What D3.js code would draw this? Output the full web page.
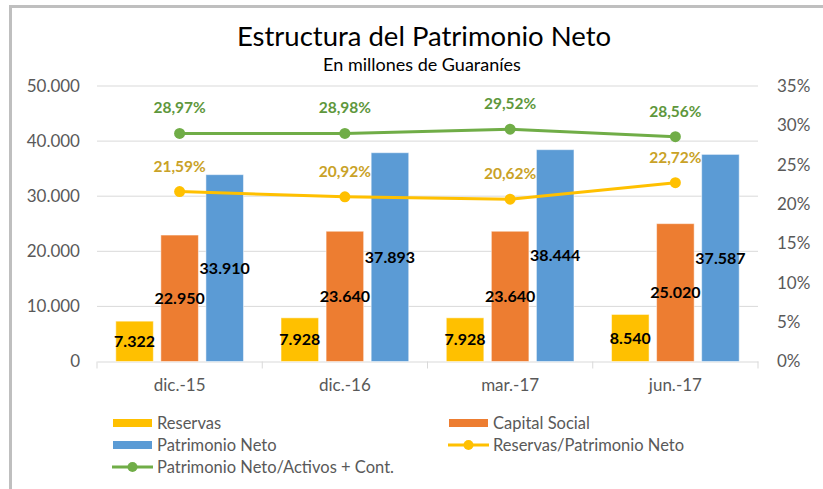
<!DOCTYPE html>
<html><head><meta charset="utf-8">
<script src="https://cdn.jsdelivr.net/npm/d3@7"></script>
<style>body{margin:0;background:#fff;} svg{display:block;font-family:Lato,"Open Sans",sans-serif;}</style>
</head><body>
<svg id="c" width="823" height="489"></svg>
<script>
const categories = ["dic.-15","dic.-16","mar.-17","jun.-17"];
const reservas = [7322, 7928, 7928, 8540];
const capitalSocial = [22950, 23640, 23640, 25020];
const patrimonioNeto = [33910, 37893, 38444, 37587];
const reservasRatio = [21.59, 20.92, 20.62, 22.72];
const pnActivosRatio = [28.97, 28.98, 29.52, 28.56];
const leftTicks = [0, 10000, 20000, 30000, 40000, 50000];
const rightTicks = [0, 5, 10, 15, 20, 25, 30, 35];
const barSeries = [
  {name:"Reservas", values:reservas, color:"#FFC000"},
  {name:"Capital Social", values:capitalSocial, color:"#ED7D31"},
  {name:"Patrimonio Neto", values:patrimonioNeto, color:"#5B9BD5"}
];
const lineSeries = [
  {name:"Reservas/Patrimonio Neto", values:reservasRatio, color:"#FFC000", label:"#C9A227"},
  {name:"Patrimonio Neto/Activos + Cont.", values:pnActivosRatio, color:"#70AD47", label:"#5E973C"}
];

const loc = d3.formatLocale({decimal:",", thousands:".", grouping:[3], currency:["",""]});
const fmtInt = loc.format(",.0f");
const fmtPct = v => loc.format(".2f")(v) + "%";

const svg = d3.select("#c");
svg.append("rect").attr("x",10.5).attr("y",6.5).attr("width",830).attr("height",500)
  .attr("fill","none").attr("stroke","#BFBFBF").attr("stroke-width",3);

const L = 97, R = 758, T = 86, B = 361.5;
const x0 = d3.scaleBand().domain(categories).range([L,R]).padding(0);
const bw = x0.bandwidth();
const groupW = bw * 127.5/165;
const x1 = d3.scaleBand().domain(barSeries.map(s=>s.name))
  .range([(bw-groupW)/2,(bw+groupW)/2]).paddingInner(1/6).paddingOuter(0);
const y = d3.scaleLinear().domain([0,50000]).range([B,T]);
const y2 = d3.scaleLinear().domain([0,35]).range([B,T]);

svg.append("g").selectAll("line").data(leftTicks.slice(1)).join("line")
  .attr("x1",L).attr("x2",R).attr("y1",d=>y(d)).attr("y2",d=>y(d))
  .attr("stroke","#D9D9D9").attr("stroke-width",1);

const ga = svg.append("g").attr("transform",`translate(${L-17},0)`)
  .call(d3.axisLeft(y).tickValues(leftTicks).tickFormat(fmtInt).tickSize(0).tickPadding(0));
ga.select(".domain").remove();
ga.selectAll("text").attr("fill","#595959").style("font-size","17px").style("font-family","Lato");

const gr = svg.append("g").attr("transform",`translate(${R+19},0)`)
  .call(d3.axisRight(y2).tickValues(rightTicks).tickFormat(d=>d+"%").tickSize(0).tickPadding(0));
gr.select(".domain").remove();
gr.selectAll("text").attr("fill","#595959").style("font-size","17px").style("font-family","Lato");

const gx = svg.append("g").attr("transform",`translate(0,${B})`)
  .call(d3.axisBottom(x0).tickSize(0).tickPadding(17));
gx.select(".domain").attr("stroke","#D9D9D9");
gx.selectAll("text").attr("fill","#595959").style("font-size","17px").style("font-family","Lato");
const bounds = categories.map(c=>x0(c)).concat([R]);
svg.append("g").selectAll("line").data(bounds).join("line")
  .attr("x1",d=>d).attr("x2",d=>d).attr("y1",B).attr("y2",B+7)
  .attr("stroke","#D9D9D9");

barSeries.forEach(s=>{
  svg.append("g").selectAll("rect").data(s.values).join("rect")
    .attr("x",(d,i)=>x0(categories[i])+x1(s.name))
    .attr("y",d=>y(d)).attr("width",x1.bandwidth()).attr("height",d=>B-y(d))
    .attr("fill",s.color).attr("stroke","#fff").attr("stroke-opacity",0.5).attr("stroke-width",1);
});
barSeries.forEach(s=>{
  svg.append("g").selectAll("text").data(s.values).join("text")
    .attr("x",(d,i)=>x0(categories[i])+x1(s.name)+x1.bandwidth()/2)
    .attr("y",d=>(y(d)+B)/2).attr("dy","0.36em")
    .attr("text-anchor","middle").attr("fill","#000")
    .style("font-size","16px").style("font-weight","bold")
    .text(d=>fmtInt(d));
});

const cx = c => x0(c) + bw/2;
lineSeries.forEach(s=>{
  const line = d3.line().x((d,i)=>cx(categories[i])).y(d=>y2(d));
  svg.append("path").datum(s.values).attr("d",line).attr("fill","none")
    .attr("stroke",s.color).attr("stroke-width",3).attr("stroke-linejoin","round");
  svg.append("g").selectAll("circle").data(s.values).join("circle")
    .attr("cx",(d,i)=>cx(categories[i])).attr("cy",d=>y2(d)).attr("r",5.5).attr("fill",s.color);
  svg.append("g").selectAll("text").data(s.values).join("text")
    .attr("x",(d,i)=>cx(categories[i])).attr("y",d=>y2(d)-20)
    .attr("text-anchor","middle").attr("fill",s.label)
    .style("font-size","15.5px").style("font-weight","bold")
    .text(d=>fmtPct(d));
});

svg.append("text").attr("x",424).attr("y",46).attr("text-anchor","middle")
  .attr("fill","#000").style("font-size","27.5px").text("Estructura del Patrimonio Neto");
svg.append("text").attr("x",422).attr("y",71).attr("text-anchor","middle")
  .attr("fill","#000").style("font-size","18px").text("En millones de Guaraníes");

const legendItems = [
  {name:"Reservas", type:"bar", color:"#FFC000", x:113, y:423},
  {name:"Capital Social", type:"bar", color:"#ED7D31", x:449, y:423},
  {name:"Patrimonio Neto", type:"bar", color:"#5B9BD5", x:113, y:445},
  {name:"Reservas/Patrimonio Neto", type:"line", color:"#FFC000", x:449, y:445},
  {name:"Patrimonio Neto/Activos + Cont.", type:"line", color:"#70AD47", x:113, y:467}
];
const lg = svg.append("g").selectAll("g").data(legendItems).join("g")
  .attr("transform",d=>`translate(${d.x},${d.y})`);
lg.filter(d=>d.type==="bar").append("rect").attr("x",0).attr("y",-4).attr("width",39).attr("height",8)
  .attr("fill",d=>d.color);
lg.filter(d=>d.type==="line").append("line").attr("x1",-1).attr("x2",40).attr("y1",0).attr("y2",0)
  .attr("stroke",d=>d.color).attr("stroke-width",3);
lg.filter(d=>d.type==="line").append("circle").attr("cx",19.5).attr("cy",0).attr("r",5).attr("fill",d=>d.color);
lg.append("text").attr("x",44).attr("y",0).attr("dy","0.36em").attr("fill","#595959")
  .style("font-size","16.5px").text(d=>d.name);
</script>
</body></html>
